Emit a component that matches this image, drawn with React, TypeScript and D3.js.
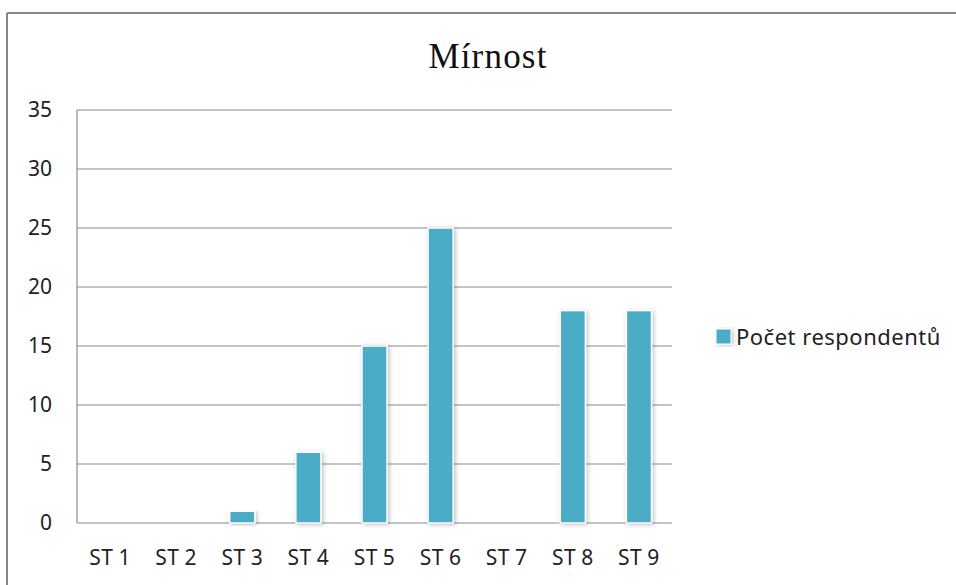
import React from "react";
import * as d3 from "d3";

const categories = ["ST1", "ST2", "ST3", "ST4", "ST5", "ST6", "ST7", "ST8", "ST9"];
const values = [0, 0, 1, 6, 15, 25, 0, 18, 18];
const yTicks = [0, 5, 10, 15, 20, 25, 30, 35];
const seriesName = "Počet respondentů";
const title = "Mírnost";

const W = 956;
const H = 585;
const plot = { left: 77, right: 672, top: 110, bottom: 523 };
const barColor = "#4BACC6";
const sans = "'Noto Sans', 'Open Sans', sans-serif";

export default function App() {
  const x = d3.scaleBand<string>().domain(categories).range([plot.left, plot.right]).paddingInner(0.62).paddingOuter(0.31);
  const y = d3.scaleLinear().domain([0, 35]).range([plot.bottom, plot.top]);
  return (
    <svg width={W} height={H} style={{ position: "absolute", left: 0, top: 0 }}>
      <defs>
        <filter id="sh" x="-50%" y="-10%" width="200%" height="130%">
          <feDropShadow dx="1.5" dy="1" stdDeviation="2" floodColor="#000" floodOpacity="0.25" />
        </filter>
      </defs>
      <rect x={0} y={0} width={W} height={H} fill="#fff" />
      <line x1={7} x2={W} y1={13} y2={13} stroke="#888" strokeWidth={2} />
      <line x1={7} x2={7} y1={13} y2={H} stroke="#888" strokeWidth={2} />
      <text x={488} y={68} textAnchor="middle" fontFamily="'Liberation Serif', serif" fontSize={35} letterSpacing={1.2} fill="#111">
        {title}
      </text>
      {yTicks.map((t) => (
        <g key={t}>
          <line x1={plot.left} x2={plot.right} y1={y(t)} y2={y(t)} stroke="#8c8c8c" strokeWidth={1.2} />
          <text x={52} y={y(t)} dy="0.35em" textAnchor="end" fontFamily={sans} fontSize={21} fill="#222">
            {t}
          </text>
        </g>
      ))}
      <line x1={plot.left} x2={plot.left} y1={plot.top} y2={plot.bottom} stroke="#8c8c8c" strokeWidth={1.2} />
      {categories.map((c, i) => {
        const v = values[i];
        if (v <= 0) return null;
        return (
          <rect
            key={c}
            x={x(c)!}
            y={y(v)}
            width={x.bandwidth()}
            height={plot.bottom - y(v)}
            fill={barColor}
            stroke="#fff"
            strokeWidth={1.5}
            filter="url(#sh)"
          />
        );
      })}
      {categories.map((c) => (
        <text key={c} x={x(c)! + x.bandwidth() / 2} y={558} dy="0.35em" textAnchor="middle" fontFamily={sans} fontSize={21} letterSpacing={0.5} fill="#222">
          {c.slice(0, 2)}
          <tspan dx={5}>{c.slice(2)}</tspan>
        </text>
      ))}
      <rect x={716} y={329} width={15} height={15} fill={barColor} stroke="#fff" strokeWidth={1} filter="url(#sh)" />
      <text x={736} y={345} fontFamily={sans} fontSize={22} letterSpacing={0.5} fill="#222">
        {seriesName}
      </text>
    </svg>
  );
}
